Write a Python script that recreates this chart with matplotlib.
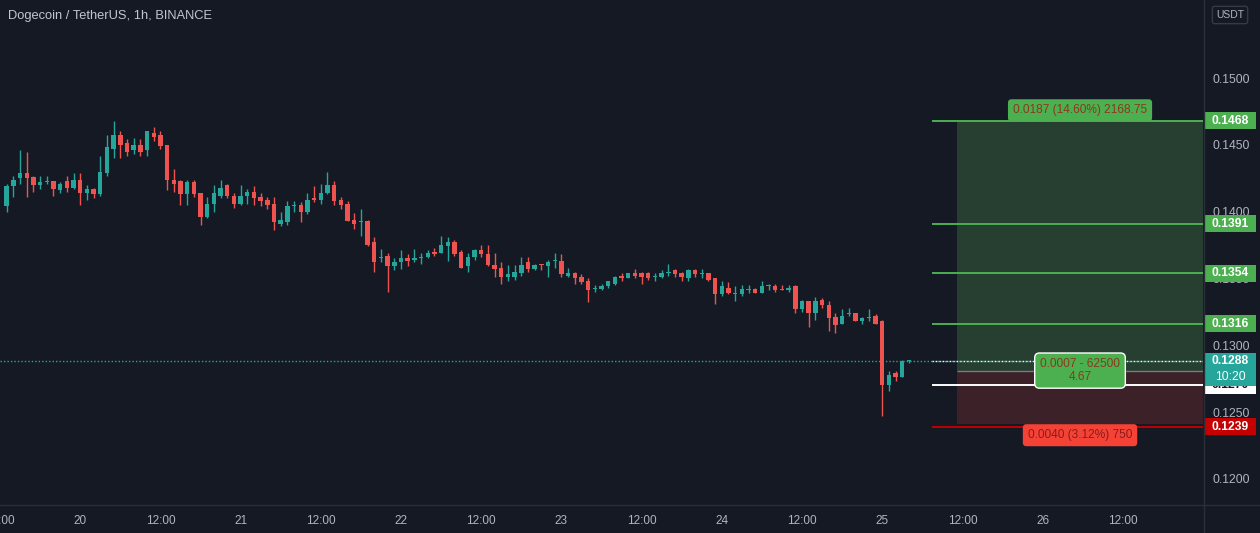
import matplotlib
matplotlib.use('Agg')
import matplotlib.pyplot as plt
from matplotlib.patches import Rectangle
from matplotlib.lines import Line2D
import numpy as np

plt.rcParams['font.family'] = ['Liberation Sans', 'DejaVu Sans']

# ---- data (DOGE/USDT 1h) ----
# hours relative to day 20 00:00, first candle at 19th 13:00
hours = np.arange(-11, 125)

opens = [0.1404, 0.1419, 0.1425, 0.1429, 0.1426, 0.1420, 0.1422, 0.1423, 0.1416, 0.1423,
         0.1418, 0.1424, 0.1414, 0.1417, 0.1413, 0.1429, 0.1447, 0.1457, 0.1451, 0.1446,
         0.1450, 0.1446, 0.1459, 0.1457, 0.1450, 0.1424, 0.1423, 0.1413, 0.1422, 0.1414,
         0.1396, 0.1406, 0.1412, 0.1420, 0.1412, 0.1406, 0.1412, 0.1415, 0.1411, 0.1409,
         0.1406, 0.1391, 0.1392, 0.1404, 0.1405, 0.1400, 0.1410, 0.1409, 0.1414, 0.1420,
         0.1409, 0.1406, 0.1394, 0.1392, 0.1393, 0.1377, 0.1365, 0.1367, 0.1359, 0.1362,
         0.1365, 0.1364, 0.1365, 0.1366, 0.1370, 0.1369, 0.1374, 0.1377, 0.1370, 0.1359,
         0.1366, 0.1371, 0.1368, 0.1360, 0.1358, 0.1351, 0.1351, 0.1354, 0.1362, 0.1357,
         0.1361, 0.1359, 0.1363, 0.1363, 0.1352, 0.1354, 0.1351, 0.1348, 0.1342, 0.1342,
         0.1344, 0.1346, 0.1352, 0.1350, 0.1354, 0.1354, 0.1354, 0.1351, 0.1351, 0.1354,
         0.1356, 0.1354, 0.1350, 0.1356, 0.1353, 0.1354, 0.1350, 0.1338, 0.1343, 0.1338,
         0.1338, 0.1341, 0.1342, 0.1339, 0.1344, 0.1344, 0.1342, 0.1341, 0.1344, 0.1327,
         0.1333, 0.1324, 0.1334, 0.1330, 0.1321, 0.1316, 0.1323, 0.1324, 0.1318, 0.1320,
         0.1322, 0.1318, 0.1270, 0.1279, 0.1276, 0.1288]
highs = [0.1421, 0.1427, 0.1446, 0.1445, 0.1427, 0.1427, 0.1427, 0.1423, 0.1422, 0.1427,
         0.1429, 0.1429, 0.1420, 0.1418, 0.1442, 0.1457, 0.1468, 0.1460, 0.1454, 0.1455,
         0.1454, 0.1460, 0.1463, 0.1460, 0.1450, 0.1432, 0.1424, 0.1424, 0.1424, 0.1414,
         0.1411, 0.1420, 0.1424, 0.1421, 0.1414, 0.1420, 0.1417, 0.1419, 0.1414, 0.1411,
         0.1411, 0.1400, 0.1408, 0.1408, 0.1407, 0.1414, 0.1419, 0.1421, 0.1430, 0.1423,
         0.1411, 0.1408, 0.1399, 0.1402, 0.1394, 0.1381, 0.1372, 0.1369, 0.1365, 0.1371,
         0.1368, 0.1372, 0.1369, 0.1371, 0.1373, 0.1382, 0.1381, 0.1379, 0.1371, 0.1369,
         0.1372, 0.1375, 0.1375, 0.1369, 0.1362, 0.1360, 0.1360, 0.1366, 0.1366, 0.1361,
         0.1361, 0.1364, 0.1369, 0.1368, 0.1358, 0.1355, 0.1353, 0.1350, 0.1345, 0.1346,
         0.1348, 0.1352, 0.1354, 0.1354, 0.1357, 0.1355, 0.1355, 0.1354, 0.1356, 0.1361,
         0.1357, 0.1355, 0.1357, 0.1357, 0.1357, 0.1354, 0.1350, 0.1348, 0.1347, 0.1344,
         0.1345, 0.1345, 0.1343, 0.1348, 0.1346, 0.1346, 0.1345, 0.1345, 0.1345, 0.1334,
         0.1333, 0.1336, 0.1335, 0.1333, 0.1324, 0.1327, 0.1328, 0.1324, 0.1321, 0.1327,
         0.1323, 0.1319, 0.1281, 0.1281, 0.1289, 0.1289]
lows = [0.1400, 0.1411, 0.1421, 0.1411, 0.1415, 0.1417, 0.1421, 0.1412, 0.1414, 0.1415,
        0.1417, 0.1405, 0.1409, 0.1410, 0.1412, 0.1427, 0.1440, 0.1440, 0.1442, 0.1443,
        0.1442, 0.1442, 0.1453, 0.1447, 0.1416, 0.1415, 0.1405, 0.1405, 0.1411, 0.1390,
        0.1395, 0.1400, 0.1410, 0.1410, 0.1403, 0.1405, 0.1406, 0.1405, 0.1404, 0.1402,
        0.1386, 0.1389, 0.1390, 0.1400, 0.1392, 0.1398, 0.1407, 0.1406, 0.1413, 0.1405,
        0.1402, 0.1393, 0.1387, 0.1382, 0.1374, 0.1355, 0.1362, 0.1340, 0.1356, 0.1357,
        0.1359, 0.1362, 0.1361, 0.1365, 0.1367, 0.1369, 0.1363, 0.1367, 0.1358, 0.1355,
        0.1364, 0.1366, 0.1359, 0.1351, 0.1346, 0.1348, 0.1349, 0.1352, 0.1355, 0.1356,
        0.1356, 0.1351, 0.1358, 0.1351, 0.1351, 0.1346, 0.1346, 0.1332, 0.1340, 0.1341,
        0.1343, 0.1345, 0.1348, 0.1350, 0.1350, 0.1346, 0.1349, 0.1348, 0.1350, 0.1352,
        0.1351, 0.1348, 0.1348, 0.1351, 0.1350, 0.1348, 0.1331, 0.1337, 0.1338, 0.1333,
        0.1337, 0.1339, 0.1339, 0.1339, 0.1341, 0.1340, 0.1341, 0.1340, 0.1324, 0.1325,
        0.1314, 0.1319, 0.1328, 0.1311, 0.1309, 0.1316, 0.1322, 0.1318, 0.1316, 0.1318,
        0.1316, 0.1247, 0.1266, 0.1273, 0.1276, 0.1287]
closes = [0.1419, 0.1424, 0.1429, 0.1425, 0.1420, 0.1422, 0.1423, 0.1417, 0.1421, 0.1418,
          0.1424, 0.1414, 0.1417, 0.1413, 0.1430, 0.1448, 0.1457, 0.1450, 0.1445, 0.1450,
          0.1445, 0.1460, 0.1456, 0.1449, 0.1424, 0.1421, 0.1413, 0.1422, 0.1413, 0.1396,
          0.1406, 0.1414, 0.1418, 0.1412, 0.1406, 0.1412, 0.1415, 0.1410, 0.1408, 0.1405,
          0.1392, 0.1394, 0.1404, 0.1405, 0.1400, 0.1409, 0.1409, 0.1414, 0.1420, 0.1408,
          0.1405, 0.1393, 0.1391, 0.1393, 0.1375, 0.1362, 0.1366, 0.1359, 0.1362, 0.1365,
          0.1363, 0.1365, 0.1366, 0.1369, 0.1368, 0.1375, 0.1377, 0.1368, 0.1358, 0.1366,
          0.1371, 0.1368, 0.1360, 0.1357, 0.1351, 0.1353, 0.1355, 0.1360, 0.1357, 0.1360,
          0.1360, 0.1362, 0.1364, 0.1353, 0.1354, 0.1350, 0.1347, 0.1341, 0.1343, 0.1344,
          0.1348, 0.1351, 0.1350, 0.1354, 0.1352, 0.1351, 0.1350, 0.1352, 0.1354, 0.1355,
          0.1353, 0.1351, 0.1356, 0.1353, 0.1354, 0.1349, 0.1338, 0.1344, 0.1339, 0.1339,
          0.1342, 0.1342, 0.1339, 0.1344, 0.1345, 0.1341, 0.1341, 0.1343, 0.1327, 0.1333,
          0.1324, 0.1333, 0.1330, 0.1320, 0.1315, 0.1322, 0.1324, 0.1318, 0.1320, 0.1321,
          0.1316, 0.1270, 0.1278, 0.1276, 0.1288, 0.12885]

# position tool
entry = 0.1281
target = 0.1468
stop = 0.1241
levels_green = [0.1468, 0.1391, 0.1354, 0.1316]
level_white = 0.1270
level_red = 0.1239
last_price = 0.1288

xtick_pos = np.arange(-12, 157, 12)
xtick_labels = ['12:00', '20', '12:00', '21', '12:00', '22', '12:00', '23',
                '12:00', '24', '12:00', '25', '12:00', '26', '12:00']
ytick_pos = [0.1200, 0.1250, 0.1300, 0.1350, 0.1400, 0.1450, 0.1500]

# ---- style ----
bg = '#151924'
grey = '#b2b5be'
up = '#26a69a'
down = '#ef5350'
green = '#4caf50'

W, H = 1260, 533
fig = plt.figure(figsize=(W / 100, H / 100), dpi=100, facecolor=bg)
ax = fig.add_axes([0, 28 / H, 1203 / W, 505 / H])
ax.set_facecolor(bg)
ax.set_xlim(-12, 168)
ax.set_ylim(0.11804, 0.15584)
px = (0.15584 - 0.11804) / 505  # price per pixel
for s in ax.spines.values():
    s.set_visible(False)

# candles
o = np.array(opens); c = np.array(closes)
h = np.array(highs); l = np.array(lows)
cols = np.where(c >= o, up, down)
ax.vlines(hours, l, h, colors=cols, lw=1, zorder=3)
body = np.maximum(np.abs(c - o), 1.2 * px)
ax.bar(hours, body, bottom=np.minimum(o, c), width=0.66, color=cols, lw=0, zorder=4)

# current price dotted line
ax.axhline(last_price, color=up, lw=1, ls=(0, (1, 1.5)), zorder=2)
x0 = 127.4
xb = 131.2
ax.hlines(last_price, x0, 168, color='white', lw=1, ls=(0, (1, 1.5)), zorder=6)

# position boxes
ax.add_patch(Rectangle((xb, entry), 168 - xb, target - entry, fc='#263f30', ec='none', zorder=1))
ax.add_patch(Rectangle((xb, stop), 168 - xb, entry - stop, fc='#3c2129', ec='none', zorder=1))
ax.hlines(entry, xb, 168, color='#787b86', lw=1, zorder=2)

for lv in levels_green:
    ax.hlines(lv, x0, 168, color=green, lw=1.4, zorder=5)
ax.hlines(level_white, x0, 168, color='white', lw=1.4, zorder=5)
ax.hlines(level_red, x0, 168, color='#c00000', lw=1.4, zorder=5)

xc = (xb + 168) / 2
ax.text(xc, target + 10.5 * px, '0.0187 (14.60%) 2168.75', ha='center', va='center',
        fontsize=8.6, color='#8a3a1c', zorder=8,
        bbox=dict(boxstyle='round,pad=0.42,rounding_size=0.3', fc=green, ec='none'))
ax.text(xc, entry, '0.0007 - 62500\n4.67', ha='center', va='center', fontsize=8.6,
        color='#8a3a1c', zorder=8, linespacing=1.05,
        bbox=dict(boxstyle='round,pad=0.45,rounding_size=0.4', fc=green, ec='white', lw=1))
ax.text(xc, level_red - 8.5 * px, '0.0040 (3.12%) 750', ha='center', va='center',
        fontsize=8.6, color='#8b1a1a', zorder=8,
        bbox=dict(boxstyle='round,pad=0.42,rounding_size=0.3', fc='#f44336', ec='none'))

# axes ticks
ax.yaxis.tick_right()
ax.set_yticks(ytick_pos)
ax.set_yticklabels(['%.4f' % v for v in ytick_pos])
ax.tick_params(axis='y', length=0, pad=7, labelsize=8.7, labelcolor=grey)
ax.set_xticks(xtick_pos)
ax.set_xticklabels(xtick_labels)
ax.tick_params(axis='x', length=0, pad=7, labelsize=8.5, labelcolor=grey)

# price tags on the scale
ytr = ax.get_yaxis_transform()


def tag(p, txt, fc, tc, hpx=17, yc=None, z=10):
    yc = p if yc is None else yc
    ax.add_patch(Rectangle((1 + 1 / 1203, yc - hpx * px / 2), 52 / 1203, hpx * px,
                           transform=ytr, fc=fc, ec='none', clip_on=False, zorder=z))
    ax.text(1 + 27 / 1203, p, txt, transform=ytr, ha='center', va='center', color=tc,
            fontsize=8.7, fontweight='bold', clip_on=False, zorder=z + 0.1)


for lv in levels_green:
    tag(lv, '%.4f' % lv, green, 'white')
tag(level_white, '%.4f' % level_white, 'white', '#131722', z=10)
tag(level_red, '%.4f' % level_red, '#c40000', 'white')
tag(last_price, '%.4f' % last_price, up, 'white', hpx=33, yc=last_price - 8.5 * px, z=11)
ax.text(1 + 27 / 1203, last_price - 16 * px, '10:20', transform=ytr, ha='center',
        va='center', color='white', fontsize=8.7, clip_on=False, zorder=11.2)

# separators
fig.add_artist(Line2D([1203.5 / W] * 2, [0, 1], color='#2a2e39', lw=1))
fig.add_artist(Line2D([0, 1], [28 / H] * 2, color='#2a2e39', lw=1))

# title and currency
fig.text(8 / W, 1 - 16 / H, 'Dogecoin / TetherUS, 1h, BINANCE', ha='left', va='center',
         fontsize=9.3, color='#c3c6cf')
fig.text(1230 / W, 1 - 15 / H, 'USDT', ha='center', va='center', fontsize=7.5, color=grey,
         bbox=dict(boxstyle='round,pad=0.35,rounding_size=0.2', fc=bg, ec='#363a45', lw=1))

fig.savefig('out.png', dpi=100, facecolor=bg)
